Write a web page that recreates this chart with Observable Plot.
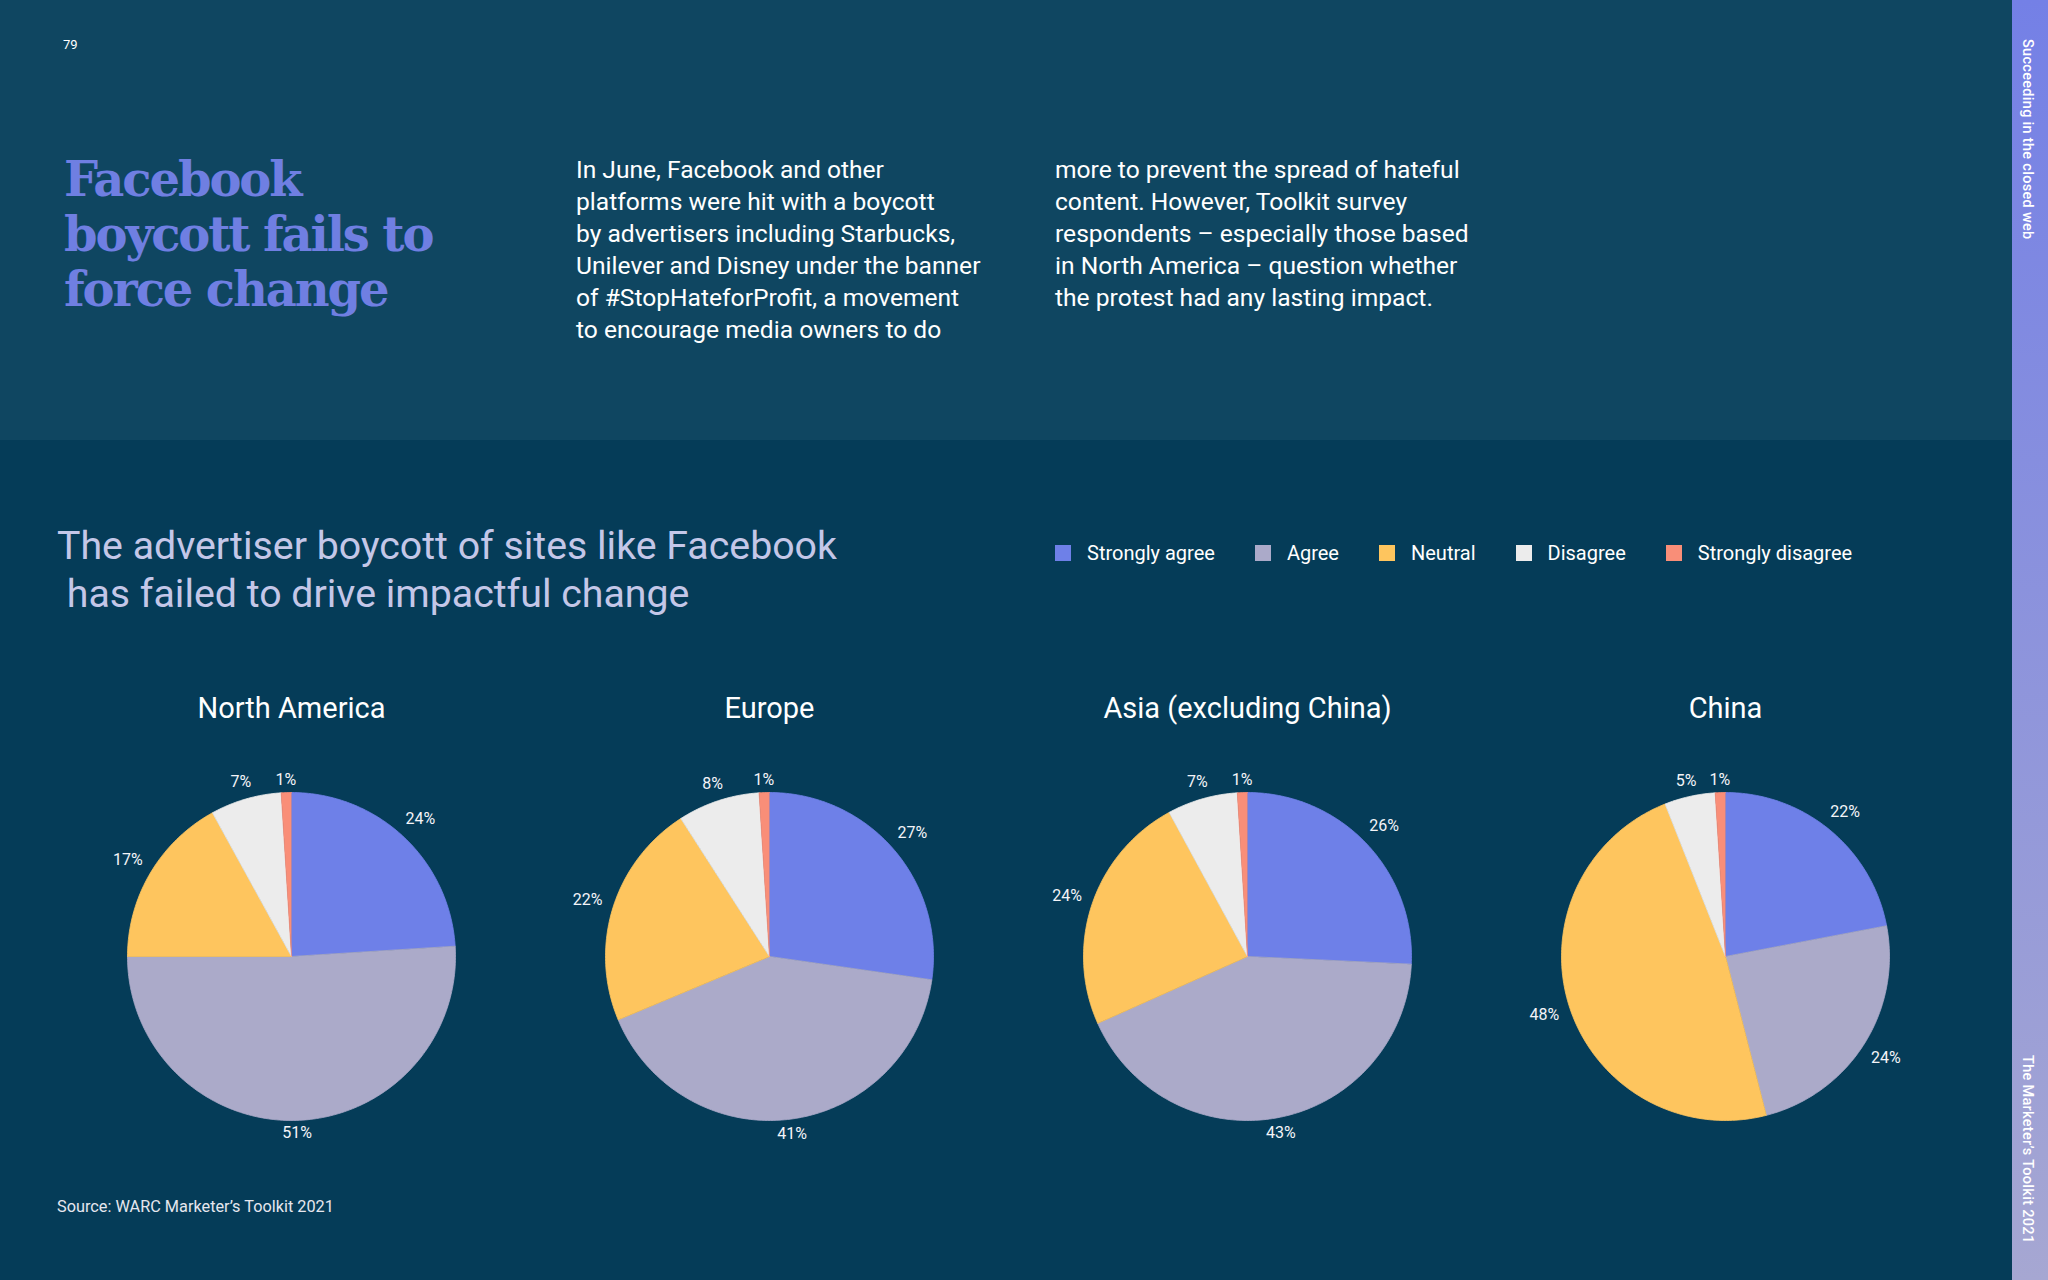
<!DOCTYPE html>
<html>
<head>
<meta charset="utf-8">
<script src="https://cdn.jsdelivr.net/npm/d3@7"></script>
<script src="https://cdn.jsdelivr.net/npm/@observablehq/plot@0.6"></script>
<style>
  html, body { margin: 0; padding: 0; }
  body { width: 2048px; height: 1280px; overflow: hidden; position: relative; background: #053c58; font-family: Roboto, "Noto Sans", sans-serif; color: #fff; }
  .band { position: absolute; left: 0; top: 0; width: 2012px; height: 440px; background: #0f4661; }
  .strip { position: absolute; left: 2012px; top: 0; width: 36px; height: 1280px; background: linear-gradient(#7480e6, #a6a7d2); }
  .vtext { position: absolute; writing-mode: vertical-rl; font-size: 14.5px; font-weight: 500; color: #fff; left: 2019px; letter-spacing: 0.3px; }
  .pageno { position: absolute; left: 63px; top: 37px; font-size: 13px; }
  .title { position: absolute; left: 64px; top: 152px; font-family: "DejaVu Serif", serif; font-weight: bold; font-size: 48px; line-height: 55px; letter-spacing: -2.1px; color: #6f7fe2; margin: 0; }
  .para { position: absolute; top: 154px; font-size: 24.6px; line-height: 32px; color: #fff; margin: 0; white-space: pre; }
  .subtitle { position: absolute; left: 57px; top: 522px; font-size: 39.3px; line-height: 48px; color: #c4c7e8; margin: 0; white-space: pre; }
  .source { position: absolute; left: 57px; top: 1197px; font-size: 16.3px; color: #e6e7ef; }
  #legend { position: absolute; left: 1055px; top: 536px; }
  .lg-swatches { font-family: Roboto, sans-serif !important; font-size: 20px !important; color: #fff !important; margin: 0 !important; }
  .lg-swatches-wrap { min-height: 34px !important; flex-wrap: nowrap !important; }
  .lg-swatch { margin-right: 40px !important; }
  .lg-swatch > svg { margin-right: 16px !important; }
  #pies { position: absolute; left: 0; top: 660px; }
</style>
</head>
<body>
<div class="band"></div>
<div class="strip"></div>
<div class="vtext" style="top:39px">Succeeding in the closed web</div>
<div class="vtext" style="top:1055px">The Marketer’s Toolkit 2021</div>
<div class="pageno">79</div>
<h1 class="title">Facebook<br>boycott fails to<br>force change</h1>
<p class="para" style="left:576px">In June, Facebook and other
platforms were hit with a boycott
by advertisers including Starbucks,
Unilever and Disney under the banner
of #StopHateforProfit, a movement
to encourage media owners to do</p>
<p class="para" style="left:1055px">more to prevent the spread of hateful
content. However, Toolkit survey
respondents – especially those based
in North America – question whether
the protest had any lasting impact.</p>
<p class="subtitle">The advertiser boycott of sites like Facebook
 has failed to drive impactful change</p>
<div id="legend"></div>
<div id="pies"></div>
<div class="source">Source: WARC Marketer’s Toolkit 2021</div>
<script>
// ---- data ----
const regions = ["North America", "Europe", "Asia (excluding China)", "China"];
const categories = ["Strongly agree", "Agree", "Neutral", "Disagree", "Strongly disagree"];
const colors = ["#6e80e8", "#abaac9", "#fec55e", "#ececec", "#f98e78"];
const northAmerica = [24, 51, 17, 7, 1];
const europe = [27, 41, 22, 8, 1];
const asia = [26, 43, 24, 7, 1];
const china = [22, 24, 48, 5, 1];
const seriesByRegion = [northAmerica, europe, asia, china];

// ---- layout ----
const facetW = 478, radiusPx = 164, innerH = 432, mTop = 80, mLeft = 52;
const xr = facetW / 2 / radiusPx, yr = innerH / 2 / radiusPx;

// build slice polygons and label positions from the values
const slicePts = [];
const labels = [];
regions.forEach((region, ri) => {
  const vals = seriesByRegion[ri];
  const total = d3.sum(vals);
  let cum = 0;
  vals.forEach((v, ci) => {
    const a0 = cum / total * 2 * Math.PI;
    const a1 = (cum + v) / total * 2 * Math.PI;
    cum += v;
    const key = region + "|" + categories[ci];
    slicePts.push({region, cat: categories[ci], key, x: 0, y: 0});
    const n = Math.max(2, Math.ceil((a1 - a0) / (Math.PI / 180)));
    for (let k = 0; k <= n; ++k) {
      const a = a0 + (a1 - a0) * k / n;
      slicePts.push({region, cat: categories[ci], key, x: Math.sin(a), y: Math.cos(a)});
    }
    const am = (a0 + a1) / 2;
    const rl = (168 + 21 * Math.abs(Math.sin(am)) + 8 * Math.abs(Math.cos(am))) / radiusPx;
    labels.push({region, cat: categories[ci], text: v + "%", x: rl * Math.sin(am), y: rl * Math.cos(am)});
  });
});

const pies = Plot.plot({
  width: mLeft + facetW * regions.length,
  height: mTop + innerH,
  marginLeft: mLeft,
  marginRight: 0,
  marginTop: mTop,
  marginBottom: 0,
  style: {background: "transparent", color: "white", fontFamily: "Roboto, sans-serif", overflow: "visible"},
  fx: {domain: regions, padding: 0, axis: null},
  x: {domain: [-xr, xr], axis: null},
  y: {domain: [-yr, yr], axis: null},
  color: {domain: categories, range: colors},
  marks: [
    Plot.line(slicePts, {fx: "region", x: "x", y: "y", z: "key", fill: "cat", stroke: "cat", strokeWidth: 0.8, curve: "linear"}),
    Plot.text(labels, {fx: "region", x: "x", y: "y", text: "text", fill: "#f4f4f8", fontSize: 16}),
    Plot.text(regions, {fx: d => d, text: d => d, frameAnchor: "top", dy: -43, fill: "white", fontSize: 29})
  ]
});
document.getElementById("pies").appendChild(pies);

const legend = Plot.legend({
  color: {domain: categories, range: colors},
  legend: "swatches",
  swatchSize: 16,
  className: "lg"
});
document.getElementById("legend").appendChild(legend);
</script>
</body>
</html>
